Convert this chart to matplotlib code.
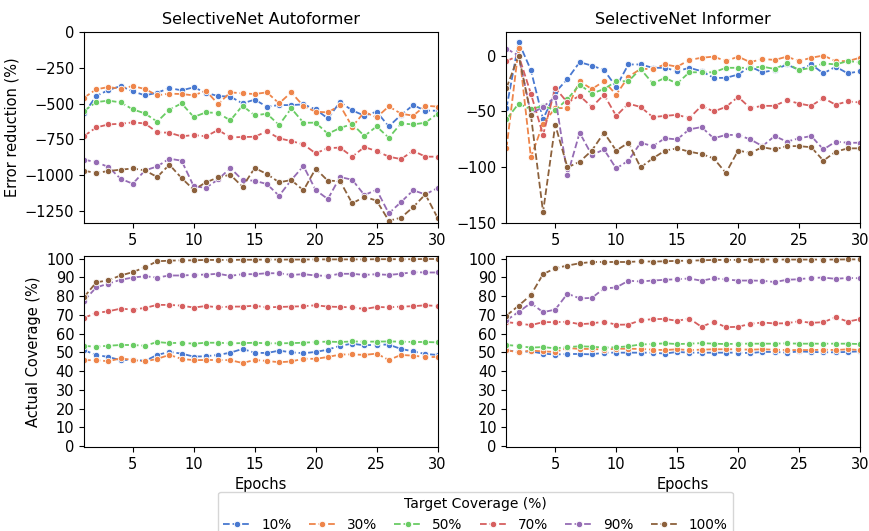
import numpy as np
import matplotlib
matplotlib.use('Agg')
import matplotlib.pyplot as plt

epochs = np.arange(1, 31)
targets = ['10%', '30%', '50%', '70%', '90%', '100%']
colors = ['#4878d0', '#ee854a', '#6acc64', '#d65f5f', '#956cb4', '#8c613c']

# error reduction (%), SelectiveNet Autoformer
auto_err_10 = [-568, -447, -405, -377, -414, -442, -424, -391, -407, -386, -424, -447, -451, -498, -472,
               -521, -510, -510, -505, -540, -603, -489, -547, -584, -556, -659, -579, -510, -549, -549]
auto_err_30 = [-458, -400, -384, -396, -377, -398, -442, -430, -433, -442, -410, -503, -421, -428, -433,
               -421, -498, -421, -517, -556, -561, -512, -661, -558, -596, -519, -570, -584, -514, -521]
auto_err_50 = [-551, -489, -479, -491, -540, -568, -626, -542, -498, -593, -561, -565, -617, -514, -582,
               -570, -649, -533, -633, -633, -710, -670, -642, -726, -659, -738, -638, -645, -633, -570]
auto_err_70 = [-726, -666, -645, -640, -631, -638, -700, -703, -728, -719, -728, -684, -735, -733, -731,
               -693, -742, -761, -784, -847, -810, -807, -870, -803, -831, -870, -887, -829, -870, -870]
auto_err_90 = [-891, -908, -942, -1024, -1059, -966, -938, -884, -898, -1077, -1087, -1029, -949, -1033, -1038,
               -1061, -1143, -1033, -935, -1103, -1166, -1012, -1031, -1138, -1101, -1266, -1187, -1105, -1133, -1089]
auto_err_100 = [-968, -984, -970, -961, -952, -966, -1012, -926, -1019, -1101, -1049, -1015, -996, -1080, -949,
                -991, -1049, -1033, -1105, -954, -1038, -1040, -1196, -1150, -1177, -1317, -1296, -1222, -1133, -1296]

# error reduction (%), SelectiveNet Informer
inf_err_10 = [-47, 12, -13, -57, -33, -21, -6, -9, -13, -28, -8, -8, -11, -11, -14,
              -11, -14, -20, -20, -17, -10, -15, -13, -8, -13, -8, -16, -10, -16, -14]
inf_err_30 = [-83, 7, -91, -61, -47, -47, -23, -30, -23, -35, -19, -12, -12, -8, -10,
              -4, -2, -1, -5, -1, -6, -3, -4, -1, -5, -2, 0, -5, -5, -2]
inf_err_50 = [-57, -43, -48, -45, -49, -39, -26, -34, -30, -23, -23, -12, -25, -20, -25,
              -15, -15, -15, -11, -11, -11, -10, -12, -7, -13, -11, -7, -8, -5, -6]
inf_err_70 = [-5, 0, -34, -71, -29, -42, -36, -46, -35, -54, -43, -46, -55, -54, -53,
              -56, -45, -50, -46, -37, -47, -45, -45, -40, -43, -45, -38, -44, -41, -42]
inf_err_90 = [6, 0, -52, -46, -37, -107, -69, -89, -84, -101, -94, -78, -81, -74, -75,
              -66, -64, -74, -71, -71, -75, -81, -72, -77, -74, -72, -84, -77, -78, -78]
inf_err_100 = [-29, 0, -53, -140, -62, -100, -95, -85, -69, -85, -78, -100, -92, -85, -83,
               -86, -88, -92, -105, -85, -87, -82, -84, -81, -81, -82, -94, -86, -83, -83]

# actual coverage (%), SelectiveNet Autoformer
auto_cov_10 = [51.1, 48.6, 47.5, 45.8, 46.1, 45.4, 48.6, 50.2, 49.3, 47.7, 47.9, 48.6, 49.8, 51.8, 49.8,
               49.6, 50.9, 50.0, 49.5, 50.2, 51.4, 53.5, 54.6, 53.7, 54.1, 54.1, 51.8, 50.5, 49.1, 48.6]
auto_cov_30 = [45.8, 45.8, 45.2, 46.8, 45.9, 45.1, 46.5, 48.6, 46.5, 45.8, 45.9, 45.9, 45.8, 44.3, 45.9,
               45.4, 44.7, 45.1, 46.6, 46.5, 47.5, 48.8, 48.9, 48.6, 49.3, 45.9, 48.6, 48.2, 47.5, 47.5]
auto_cov_50 = [53.4, 53.0, 53.5, 53.9, 53.9, 53.5, 55.5, 54.9, 55.1, 54.6, 55.1, 55.1, 54.8, 54.9, 55.1,
               54.8, 54.8, 54.9, 55.1, 55.5, 55.7, 55.5, 55.8, 55.7, 55.7, 55.8, 55.7, 55.5, 55.5, 55.3]
auto_cov_70 = [68.4, 71.0, 71.9, 73.3, 72.8, 73.7, 75.3, 75.3, 74.9, 73.9, 74.7, 74.0, 74.4, 74.4, 74.9,
               74.0, 74.2, 74.4, 74.6, 75.1, 74.4, 74.2, 74.0, 73.1, 74.2, 74.0, 74.4, 74.6, 75.1, 74.7]
auto_cov_90 = [77.6, 84.6, 86.7, 88.7, 89.9, 90.6, 89.9, 91.0, 91.0, 91.3, 91.5, 91.9, 90.8, 91.7, 91.7,
               92.2, 92.2, 91.3, 91.7, 91.0, 90.8, 91.9, 91.9, 91.3, 91.7, 91.3, 91.9, 92.8, 92.6, 92.6]
auto_cov_100 = [79.5, 87.3, 88.5, 91.0, 92.8, 95.4, 98.6, 98.9, 99.1, 99.1, 99.3, 99.3, 99.3, 99.4, 99.4,
                99.5, 99.5, 99.5, 99.5, 99.6, 99.6, 99.6, 99.6, 99.6, 99.7, 99.7, 99.7, 99.7, 99.8, 99.8]

# actual coverage (%), SelectiveNet Informer
inf_cov_10 = [51.1, 50.2, 50.5, 49.3, 48.8, 49.1, 49.1, 48.9, 49.8, 49.8, 49.8, 49.8, 49.8, 49.3, 50.2,
              49.8, 49.8, 49.8, 49.8, 49.8, 49.6, 50.2, 50.2, 49.8, 50.5, 50.2, 50.0, 50.0, 50.2, 50.5]
inf_cov_30 = [51.1, 50.0, 50.9, 50.5, 50.2, 52.3, 51.8, 51.8, 51.4, 51.9, 51.9, 51.8, 51.4, 51.2, 51.6,
              51.2, 51.4, 51.6, 51.6, 51.6, 51.4, 51.6, 51.4, 51.2, 51.2, 51.2, 51.4, 51.2, 51.6, 51.2]
inf_cov_50 = [53.9, 53.4, 52.5, 52.8, 52.1, 52.8, 53.2, 53.0, 52.5, 52.7, 53.2, 54.2, 54.4, 54.8, 54.4,
              54.6, 54.9, 54.6, 54.4, 54.6, 54.6, 54.6, 54.6, 54.8, 54.6, 54.6, 54.6, 54.6, 54.6, 54.4]
inf_cov_70 = [66.1, 65.4, 64.5, 66.1, 66.1, 66.3, 65.0, 65.4, 66.4, 64.7, 64.8, 67.1, 67.7, 67.8, 66.8,
              68.0, 63.6, 66.3, 63.4, 63.6, 65.2, 65.9, 65.4, 65.5, 66.6, 65.7, 66.1, 68.7, 66.4, 67.7]
inf_cov_90 = [67.1, 71.6, 76.3, 71.4, 72.8, 81.3, 78.8, 79.0, 84.1, 84.6, 88.2, 87.8, 88.3, 88.7, 89.0,
              89.4, 88.2, 89.5, 88.9, 88.3, 88.3, 88.2, 87.5, 88.7, 89.0, 89.7, 89.9, 89.2, 89.7, 89.5]
inf_cov_100 = [69.6, 74.9, 80.6, 91.7, 94.9, 96.3, 97.5, 98.2, 98.2, 98.2, 98.2, 98.6, 98.4, 98.6, 98.8,
               98.9, 99.1, 99.3, 99.3, 99.3, 99.3, 99.5, 99.5, 99.5, 99.5, 99.5, 99.5, 99.5, 99.6, 99.6]

panels = [
    ('SelectiveNet Autoformer', [auto_err_10, auto_err_30, auto_err_50, auto_err_70, auto_err_90, auto_err_100]),
    ('SelectiveNet Informer', [inf_err_10, inf_err_30, inf_err_50, inf_err_70, inf_err_90, inf_err_100]),
    (None, [auto_cov_10, auto_cov_30, auto_cov_50, auto_cov_70, auto_cov_90, auto_cov_100]),
    (None, [inf_cov_10, inf_cov_30, inf_cov_50, inf_cov_70, inf_cov_90, inf_cov_100]),
]

fig, axes = plt.subplots(2, 2, figsize=(8.7, 5.31), dpi=100)
plt.subplots_adjust(left=0.0966, right=0.9885, top=0.9397, bottom=0.158, wspace=0.195, hspace=0.17)

handles = []
for ax, (title, series) in zip(axes.flat, panels):
    for vals, col, lab in zip(series, colors, targets):
        h, = ax.plot(epochs, vals, color=col, linestyle='--', linewidth=1.3, marker='o',
                     markersize=4.6, markeredgecolor='white', markeredgewidth=0.6, label=lab)
        if ax is axes[0, 0]:
            handles.append(h)
    ax.set_xlim(1, 30)
    ax.set_xticks([5, 10, 15, 20, 25, 30])
    ax.tick_params(labelsize=10.5)
    if title:
        ax.set_title(title, fontsize=11.5)

axes[0, 0].set_ylim(-1335, 0)
axes[0, 0].set_yticks([0, -250, -500, -750, -1000, -1250])
axes[0, 1].set_ylim(-150, 21)
axes[0, 1].set_yticks([0, -50, -100, -150])
for ax in axes[1]:
    ax.set_ylim(-0.6, 101.5)
    ax.set_yticks(np.arange(0, 101, 10))
    ax.set_xlabel('Epochs', fontsize=10.5)

axes[0, 0].set_ylabel('Error reduction (%)', fontsize=10.5)
axes[1, 0].set_ylabel('Actual Coverage (%)', fontsize=10.5)

fig.legend(handles=handles, labels=targets, title='Target Coverage (%)', loc='upper center',
           bbox_to_anchor=(0.5466, 0.074), ncol=6, fontsize=9.8, title_fontsize=10,
           columnspacing=1.25, handlelength=2.0, borderaxespad=0.0, framealpha=0.8)

plt.savefig('out.png', dpi=100)
